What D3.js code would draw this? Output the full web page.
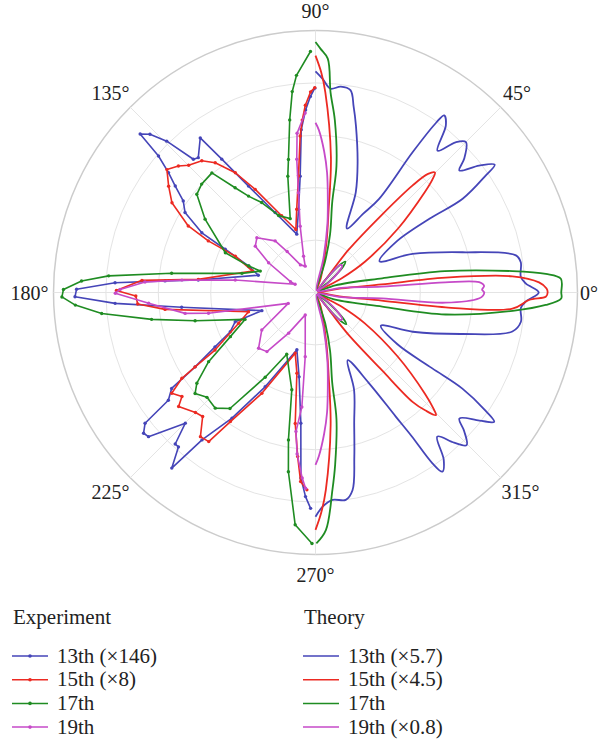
<!DOCTYPE html>
<html><head><meta charset="utf-8">
<script src="https://cdn.jsdelivr.net/npm/d3@7"></script>
<style>body{margin:0;background:#fff}svg{display:block}</style>
</head><body>
<svg id="c" width="599" height="740"></svg>
<script>
// ---- data: [angle in degrees, radial value] ----
const angleTicks = [0, 45, 90, 135, 180, 225, 270, 315];
const angleLabels = ["0°", "45°", "90°", "135°", "180°", "225°", "270°", "315°"];
const radialTicks = [1, 2, 3, 4, 5];

const seriesNames = ["13th", "15th", "17th", "19th"];
const expLabels = ["13th (×146)", "15th (×8)", "17th", "19th"];
const thLabels = ["13th (×5.7)", "15th (×4.5)", "17th", "19th (×0.8)"];

const thBlue = [[90,4.22],[88.1,4.08],[85.8,3.9],[83,3.96],[80.2,3.92],[78.4,3.62],[76.4,3.28],[72,2.6],[68.1,2.06],[63.8,1.36],[58.8,1.76],[55.8,2.16],[55.3,3.26],[54.6,3.98],[54,4.18],[52,4.04],[49.3,3.57],[47,3.92],[45,4.06],[42,3.82],[40.3,3.6],[37.8,3.95],[35.5,4.2],[34.5,3.94],[32.5,3.33],[32.9,2.59],[32.1,1.81],[26,1.36],[21.7,1.99],[15.3,2.91],[10.5,3.89],[8.4,3.96],[4.3,3.93],[2.4,4.02],[0,4.26],
  [-2.4,4.02],[-4.3,3.93],[-8.1,3.96],[-11.2,3.83],[-15.8,2.91],[-22,2.0],[-27,1.4],[-32.3,1.85],[-33,2.65],[-33.2,3.35],[-34.8,3.95],[-35.9,4.21],[-38,3.97],[-41.2,3.65],[-43,3.88],[-45.3,4.1],[-47.3,3.9],[-49.8,3.6],[-52.5,4.02],[-54.7,4.19],[-55.6,3.95],[-56.2,3.3],[-57.1,2.82],[-59.5,2.0],[-64.6,1.43],[-68.4,2.0],[-73.5,2.6],[-76.7,3.22],[-79.4,3.84],[-81.7,4.0],[-85.3,3.97],[-88.1,4.09],[-90,4.28]];
const thRed = [[90,4.52],[88.5,4.2],[87.2,3.83],[83.5,2.6],[81,1.6],[77.7,0.98],[70,0.3],[60,0.05],[52.5,0.5],[52.3,1.02],[49.5,1.95],[47.8,2.76],[46.5,3.12],[45.1,3.23],[44,3.1],[42.6,2.84],[37.8,2.0],[31.9,1.11],[28.4,0.57],[18,0.05],[9,0.5],[7,1.27],[6.5,2.5],[4.7,3.77],[2.6,4.27],[1,4.41],[0,4.43],
  [-1,4.4],[-2,4.08],[-4.7,3.77],[-6.5,2.5],[-7,1.27],[-9,0.5],[-18,0.05],[-28.4,0.57],[-32,1.11],[-38,2.0],[-42.8,2.85],[-44.5,3.15],[-45.5,3.28],[-47,3.08],[-48.4,2.79],[-49.5,1.95],[-52,1.02],[-52.5,0.5],[-60,0.05],[-70,0.3],[-78,1.0],[-81,1.6],[-83.5,2.55],[-87,3.77],[-88.5,4.2],[-90,4.53]];
const thGreen = [[90,4.78],[88.8,4.65],[87,4.47],[85.7,3.83],[83.6,3.31],[80.6,2.45],[79.5,1.75],[76,1.15],[72.9,0.62],[62,0.05],[52,0.3],[48.5,0.7],[46,0.82],[43,0.72],[39,0.35],[30,0.05],[20,0.4],[12,1.3],[9.4,2.5],[6.2,3.78],[4.6,4.41],[3.2,4.69],[0,4.69],
  [-1.4,4.69],[-3.1,4.4],[-5.3,3.78],[-9.6,2.52],[-12,1.3],[-20,0.4],[-30,0.05],[-39,0.35],[-43,0.72],[-45.8,0.84],[-48.5,0.72],[-52,0.3],[-62,0.05],[-72.5,0.62],[-76,1.15],[-79.5,1.75],[-80.6,2.45],[-83.5,3.31],[-85.1,3.78],[-87.5,4.54],[-89.8,4.79]];
const thMagenta = [[90,3.24],[88.8,3.1],[86.5,2.7],[84.5,2.3],[82.5,1.8],[80,1.3],[77,0.67],[65,0.05],[52,0.3],[48.3,0.7],[45,0.72],[41,0.55],[36,0.25],[25,0.05],[10,0.5],[5,1.27],[4.5,2.48],[3.6,3.13],[2.2,3.22],[1,3.18],[0,3.22],
  [-1,3.2],[-2,3.13],[-4.5,2.48],[-5,1.27],[-10,0.5],[-25,0.05],[-36,0.25],[-41,0.55],[-45,0.72],[-48.3,0.7],[-52,0.3],[-65,0.05],[-77,0.67],[-80,1.3],[-82.5,1.8],[-84.5,2.3],[-86.5,2.7],[-88.8,3.12],[-90,3.29]];

const exBlue = [[90.2,3.9],[91.5,3.74],[93.1,3.49],[95,3.12],[97.5,2.24],[101.5,1.62],[107.8,1.17],[116.8,1.71],[122.2,2.4],[125.1,3.11],[126.7,3.68],[131,3.41],[132.5,3.45],[134.5,4.05],[136.3,4.37],[137.9,4.51],[139,3.97],[140.8,3.62],[142.8,3.36],[145.3,3.07],[148.5,2.92],[152.3,2.45],[154.4,1.91],[158.4,1.37],[163.2,1.14],[173.9,2.25],[175.6,2.88],[177.2,3.83],[179.2,4.56],[181,4.59],[183.1,3.83],[186.3,2.57],[198.7,1.08],[200,1.63],[204.7,1.79],[208.4,2.18],[211.7,2.7],[213.7,3.3],[216.2,3.48],[217.5,4.1],[219.3,4.24],[220.8,4.21],[225.1,3.52],[227.2,3.94],[228.4,3.94],[230.7,4.33],[232.4,3.55],[236.4,2.88],[241.9,2.04],[252,1.15],[259,1.64],[263.6,2.51],[265.5,3.55],[267.2,3.9],[268.7,4.12]];
const exRed = [[90.2,3.91],[91.4,3.83],[93.1,3.58],[94.4,3.3],[95.6,3.0],[98.3,2.25],[102.7,1.63],[107.3,1.26],[113.8,1.6],[120.3,2.28],[123.8,2.75],[127.7,3.13],[130.8,3.32],[134.9,3.43],[137.3,3.56],[140.4,3.68],[144.1,3.46],[148,3.23],[152.4,2.74],[154.3,2.27],[155.6,1.68],[161.2,1.27],[173.6,2.25],[176,3.32],[179.4,3.8],[181.1,3.43],[183.7,3.4],[186.4,2.89],[196,1.33],[201.8,1.58],[209.8,2.21],[211.7,2.7],[212.7,3.03],[215,3.35],[217.9,3.23],[219.8,3.4],[225,3.24],[227.7,3.2],[231.4,3.52],[234.4,3.5],[236.6,2.95],[242,2.18],[251.5,1.22],[257,1.58],[261.2,2.53],[263.8,3.15],[265.5,3.62],[267.5,3.77]];
const exGreen = [[91.2,4.6],[95,4.16],[96.6,3.86],[98.5,3.33],[101.5,2.59],[103.4,2.28],[108.9,1.49],[115.6,1.63],[120.9,2.0],[124.8,2.24],[127.5,2.52],[130.9,3.02],[136.4,3.0],[140.4,2.94],[146.4,2.53],[156.2,1.88],[158.4,1.37],[158.8,1.13],[165.4,1.45],[172.4,2.77],[175.4,3.96],[177.2,4.47],[179.3,4.81],[181,4.84],[183,4.59],[185.6,4.1],[189.3,3.17],[193.2,2.36],[200.9,1.44],[207.4,1.83],[212.9,2.43],[217.4,2.85],[220,3.0],[224,2.88],[229.1,2.92],[233.6,2.75],[239.3,1.88],[245,1.3],[256.3,1.91],[259.6,2.86],[261.4,3.46],[265,4.45],[269.2,4.79]];
const exMagenta = [[93.3,3.43],[96.6,3.06],[98,2.57],[99.7,1.93],[103,1.3],[108.2,0.73],[111.3,0.54],[118.6,0.6],[124.7,0.95],[128,1.25],[137,1.53],[142.4,1.45],[147.6,1.06],[156.6,0.52],[158,0.42],[171.2,1.55],[174.7,2.56],[176.5,3.26],[179.1,3.73],[180.2,3.82],[183.7,3.19],[189.1,2.52],[191,2.08],[201.8,0.56],[214.9,1.25],[224.4,1.52],[230.6,1.46],[236.5,0.93],[245.4,0.47],[260.9,1.24],[263.2,2.2],[262,2.68],[263.5,3.1],[265.9,3.55],[267.1,3.74]];

const colors = ["#4545b8", "#ec2a22", "#1f8c22", "#c64ac8"];

// ---- layout ----
const font = "'Liberation Serif', 'Times New Roman', 'DejaVu Serif', serif";
const svg = d3.select("#c");
const cx = 315.5, cy = 292.5, R = 262;
const rScale = d3.scaleLinear().domain([0, 5]).range([0, R]);
const toRad = d => (90 - d) * Math.PI / 180; // d3 radial angle (clockwise from top)

const g = svg.append("g").attr("transform", `translate(${cx},${cy})`);

// grid
g.selectAll("circle.grid").data(radialTicks).join("circle")
  .attr("r", d => rScale(d)).attr("fill", "none")
  .attr("stroke", d => d === 5 ? "#cccccc" : "#e4e4e4")
  .attr("stroke-width", d => d === 5 ? 1.5 : 1);
g.selectAll("line.spoke").data(angleTicks).join("line")
  .attr("x1", 0).attr("y1", 0)
  .attr("x2", d => rScale(5) * Math.cos(d * Math.PI / 180))
  .attr("y2", d => -rScale(5) * Math.sin(d * Math.PI / 180))
  .attr("stroke", "#e4e4e4").attr("stroke-width", 1);

// angle labels
const lab = g.selectAll("text.ang").data(angleTicks).join("text")
  .style("font-family", font)
  .attr("font-size", 20).attr("fill", "#222")
  .attr("text-anchor", "middle").attr("dominant-baseline", "central")
  .text((d, i) => angleLabels[i]);
lab.each(function(d) {
  const t = d3.select(this);
  const a = d * Math.PI / 180;
  const w = this.getComputedTextLength();
  const h = 22;
  const gap = (d % 180 === 0) ? 5 : 9;
  let x = (rScale(5) + gap) * Math.cos(a) + Math.cos(a) * w / 2;
  const y = -(rScale(5) + gap) * Math.sin(a) - Math.sin(a) * h / 2;
  x = Math.min(x, 599 - cx - w / 2 - 1);
  t.attr("x", x).attr("y", y);
});

const lineTh = d3.lineRadial().angle(d => toRad(d[0])).radius(d => rScale(d[1])).curve(d3.curveCatmullRom.alpha(0.5));
const lineEx = d3.lineRadial().angle(d => toRad(d[0])).radius(d => rScale(d[1])).curve(d3.curveLinear);

const theory = [thBlue, thRed, thGreen, thMagenta];
const experiment = [exBlue, exRed, exGreen, exMagenta];

theory.forEach((s, i) => {
  g.append("path").datum(s).attr("d", lineTh).attr("fill", "none")
    .attr("stroke", colors[i]).attr("stroke-width", 1.8).attr("stroke-linejoin", "round");
});
experiment.forEach((s, i) => {
  g.append("path").datum(s).attr("d", lineEx).attr("fill", "none")
    .attr("stroke", colors[i]).attr("stroke-width", 1.6).attr("stroke-linejoin", "round");
  g.append("g").selectAll("circle").data(s).join("circle")
    .attr("cx", d => rScale(d[1]) * Math.cos(d[0] * Math.PI / 180))
    .attr("cy", d => -rScale(d[1]) * Math.sin(d[0] * Math.PI / 180))
    .attr("r", 1.7).attr("fill", colors[i]);
});

// legend
const leg = svg.append("g");
const cols = [{x: 12, title: "Experiment", labels: expLabels, marker: true},
              {x: 303, title: "Theory", labels: thLabels, marker: false}];
cols.forEach(c => {
  leg.append("text").attr("x", c.x + 1).attr("y", 624).style("font-family", font)
    .attr("font-size", 21).attr("fill", "#222").text(c.title);
  seriesNames.forEach((n, i) => {
    const y = 656 + i * 23.7;
    leg.append("line").attr("x1", c.x).attr("x2", c.x + 36).attr("y1", y).attr("y2", y)
      .attr("stroke", colors[i]).attr("stroke-width", 1.5);
    if (c.marker) leg.append("circle").attr("cx", c.x + 18).attr("cy", y).attr("r", 1.8).attr("fill", colors[i]);
    leg.append("text").attr("x", c.x + 45).attr("y", y + 6.5).style("font-family", font)
      .attr("font-size", 21).attr("fill", "#222").text(c.labels[i]);
  });
});
</script>
</body></html>
